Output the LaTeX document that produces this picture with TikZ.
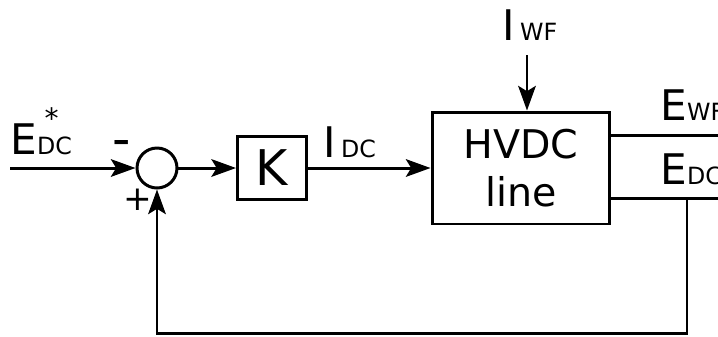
\documentclass[tikz,border=0pt]{standalone}
\usepackage{fontspec}
\setmainfont{DejaVu Sans}
\usetikzlibrary{arrows.meta}
\newcommand{\bigtxt}{\fontsize{24}{28}\selectfont}
\newcommand{\subtxt}[1]{{\fontsize{13.5}{16}\selectfont #1}}

\begin{document}
\begin{tikzpicture}[x=0.02cm,y=-0.02cm,line width=1.7pt,
  blk/.style={draw,rectangle,inner sep=0pt},
  sig/.style={-{Stealth[length=14pt,width=10pt,inset=3pt]}},
  lbl/.style={font=\bigtxt,anchor=base west,inner sep=0pt}]
  \useasboundingbox (0,0) rectangle (718,336);
  \clip (0,0) rectangle (718,336);
  \node[draw,circle,minimum size=0.8cm,inner sep=0pt] (sum) at (157,168) {};
  \node[blk,minimum width=1.38cm,minimum height=1.26cm,font=\fontsize{28}{32}\selectfont] (gain) at (272,168) {K};
  \node[blk,minimum width=3.56cm,minimum height=2.24cm,align=center,font=\fontsize{22.5}{27.3}\selectfont] (hvdc) at (521,168) {HVDC\\line};
  \coordinate (in) at (10,168);
  \coordinate (iwf) at (527,55);
  \coordinate (ewf) at (730,135);
  \coordinate (edc) at (730,198);
  \coordinate (tap) at (687,198);
  \coordinate (fb) at (157,333);
  \draw[sig] (in) -- (sum);
  \draw[sig] (sum) -- (gain);
  \draw[sig] (gain) -- (hvdc);
  \draw[sig] (iwf) -- (iwf |- hvdc.north);
  \draw (hvdc.east |- ewf) -- (ewf);
  \draw (hvdc.east |- edc) -- (edc);
  \draw[sig] (tap) |- (fb) -- (sum);
  \node[lbl] (erefl) at (9,154) {E\rlap{\hspace{4.3pt}\raisebox{14.8pt}{\fontsize{16}{18}\selectfont *}}\subtxt{DC}};
  \node[font=\fontsize{29}{34}\selectfont,anchor=base,inner sep=0pt] (minus) at (122,156) {-};
  \node[font=\fontsize{19.5}{22}\selectfont,anchor=base,inner sep=0pt] (plus) at (138,210) {+};
  \node[lbl] (idcl) at (322,157) {I\hspace{3pt}\subtxt{DC}};
  \node[lbl] (iwfl) at (501,40) {I\hspace{3pt}\subtxt{WF}};
  \node[lbl] (ewfl) at (659,120) {E\subtxt{WF}};
  \node[lbl] (edcl) at (659,184) {E\subtxt{DC}};
\end{tikzpicture}
\end{document}
